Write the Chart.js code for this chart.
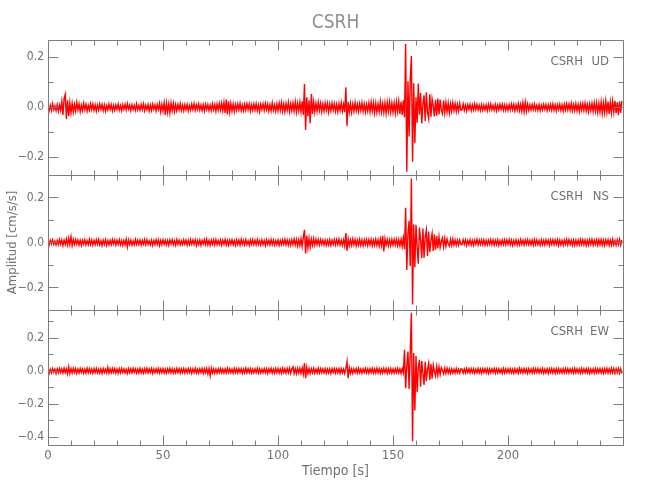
<!DOCTYPE html>
<html>
<head>
<meta charset="utf-8">
<script src="https://cdn.jsdelivr.net/npm/chart.js@4/dist/chart.umd.min.js"></script>
<style>
  html, body { margin: 0; padding: 0; background: #ffffff; }
  #wrap { width: 650px; height: 500px; }
</style>
</head>
<body>
<div id="wrap"><canvas id="c" width="650" height="500"></canvas></div>
<script>
// ---- DATA (amplitudes, in units of 0.001 cm/s/s, one sample every 0.5 s) ----
const sampleStep = 0.5; // seconds
const station = 'CSRH';
const components = ['UD', 'NS', 'EW'];

const udMilli = [
  10,-14,8,-12,15,-9,6,-13,11,-16,9,-12,24,-30,36,52,-47,28,-34,18,
  -22,16,-19,12,-15,20,-11,14,-17,9,-13,16,-10,12,-15,8,-11,14,-9,13,
  -12,10,-15,9,-11,14,-8,12,-13,10,-16,7,-10,13,-9,11,-14,8,-12,10,
  -9,13,-11,7,-14,10,-8,12,-10,15,-7,9,-13,11,-9,8,-12,14,-10,7,
  -11,12,-9,14,-13,8,-10,11,-15,9,-12,13,-8,10,-14,11,-9,16,-18,12,
  -15,19,-30,17,-20,14,-22,18,-13,16,-17,11,-14,12,-10,15,-12,9,-13,11,
  -10,12,-14,8,-11,13,-9,15,-12,10,-8,14,-11,9,-13,10,-15,12,-9,11,
  -13,9,-12,14,-10,11,-16,13,-12,15,-11,17,-14,20,-22,31,-28,24,-19,16,
  -15,13,-17,11,-12,14,-10,16,-13,9,-14,12,-11,15,-9,13,-16,10,-12,14,
  -11,15,-13,10,-17,12,-9,14,-12,16,-10,13,-15,11,-14,18,-12,10,-16,13,
  -14,17,-12,19,-16,13,-18,15,-11,20,-17,14,-13,18,-15,22,-19,16,-14,21,
  -18,24,-30,93,-91,40,-35,28,-64,53,-26,22,-19,17,-15,20,-13,16,-18,14,
  -15,18,-12,16,-19,13,-14,17,-11,15,-16,12,-18,14,-13,19,-15,12,-20,80,
  -74,22,-18,15,-20,13,-16,19,-14,12,-17,15,-13,18,-16,14,-19,12,-15,17,
  -18,21,-15,19,-22,16,-20,14,-17,23,-19,15,-21,18,-24,20,-16,22,-19,17,
  -20,18,-23,21,-17,24,-26,22,-30,28,-40,253,-258,104,-117,112,205,-218,96,-144,
  40,-62,95,-30,57,-64,12,48,-55,60,-20,-45,52,-38,34,5,-36,30,-33,35,
  -28,31,-10,-25,27,-22,20,-18,17,-21,14,-16,19,-13,15,-17,12,-14,16,-11,
  -10,13,-12,9,-14,11,-8,12,-13,10,-11,14,-9,12,-10,8,-13,11,-12,9,
  -11,10,-13,12,-9,14,-10,8,-12,11,-14,9,-10,13,-8,12,-11,10,-13,9,
  -12,11,-10,13,-9,12,-14,10,-11,15,-13,12,-16,19,-18,21,-15,13,-12,10,
  -11,12,-9,13,-10,8,-12,11,-13,9,-10,12,-8,11,-13,10,-9,12,-11,14,
  -12,10,-14,11,-9,13,-12,10,-15,12,-11,14,-10,13,-12,16,-14,11,-13,15,
  -14,12,-16,13,-11,15,-13,17,-15,12,-18,14,-13,16,-17,19,-15,18,-20,16,
  -19,22,-24,18,-21,25,-20,23,-26,21,-22,24,-19,26,-23,20,-31,24,-22,26
];

const nsMilli = [
  8,-11,10,-7,12,-9,6,-12,9,-10,13,-8,11,-14,10,-9,15,-12,18,-11,
  25,-14,12,-10,13,-8,11,-12,9,-13,10,-7,12,-11,8,-10,14,-9,11,-12,
  9,-10,12,-8,13,-11,7,-14,10,-9,12,-13,8,-11,9,-10,13,-7,11,-12,
  10,-9,12,-11,8,-13,9,-10,14,-20,11,-9,10,-12,7,-11,13,-8,10,-9,
  11,-12,9,-8,13,-10,12,-9,7,-11,10,-13,8,-10,12,-9,11,-14,9,-10,
  12,-8,10,-11,9,-13,11,-7,12,-10,8,-12,13,-9,10,-11,7,-10,12,-8,
  10,-12,9,-10,13,-8,11,-9,12,-14,8,-10,11,-13,9,-7,12,-10,14,-11,
  9,-13,10,-8,12,-11,13,-10,8,-9,11,-12,10,-8,13,-11,9,-12,10,-9,
  12,-10,8,-13,11,-9,10,-12,14,-8,9,-11,12,-10,7,-13,11,-9,12,-10,
  10,-11,13,-9,8,-12,11,-10,9,-14,12,-8,10,-11,13,-9,11,-12,8,-10,
  11,-13,9,-10,12,-8,14,-11,10,-12,9,-13,12,-10,15,-11,13,-16,12,-14,
  16,-18,22,56,-49,30,-24,18,-21,15,-13,16,-12,14,-10,13,-11,12,-9,11,
  -12,10,-13,9,-11,12,-14,10,-9,13,-11,12,-10,14,-12,9,-13,11,-15,41,
  -37,16,-14,12,-13,15,-11,13,-16,10,-12,14,-13,11,-15,12,-10,13,-14,12,
  -11,13,-15,10,-12,14,-13,11,-16,15,-14,29,-40,16,-13,12,-15,11,-14,13,
  -12,14,-11,13,-15,12,-16,14,-18,20,-30,154,-122,40,96,-105,284,-276,80,-110,
  78,-20,-95,66,10,-70,62,-68,25,55,-60,48,-44,8,40,-38,36,-32,28,-26,
  25,-22,4,20,-20,18,-17,15,-6,-16,14,-13,15,-12,11,-13,10,-12,11,-9,
  -10,12,-9,11,-13,8,-10,12,-11,9,-12,10,-8,13,-11,10,-9,12,-10,11,
  -12,9,-11,10,-8,13,-10,11,-12,9,-10,12,-13,8,-11,10,-9,12,-10,11,
  -9,12,-11,10,-13,9,-10,11,-12,8,-11,13,-9,10,-12,11,-8,12,-10,9,
  -11,10,-12,13,-9,11,-10,8,-13,12,-10,9,-11,12,-8,10,-13,11,-9,12,
  -10,11,-9,12,-13,10,-11,9,-12,10,-8,13,-11,12,-10,9,-12,11,-13,10,
  -12,10,-11,13,-9,12,-10,11,-14,9,-11,12,-10,13,-12,10,-9,11,-13,12,
  -11,13,-12,10,-14,11,-9,12,-13,10,-12,14,-11,9,-13,12,-10,14,-12,11
];

const ewMilli = [
  12,-15,10,-13,14,-9,11,-16,13,-12,15,-10,12,-14,16,-11,13,-18,25,-17,
  14,-12,16,-10,13,-15,11,-13,15,-9,12,-14,10,-13,16,-11,14,-12,10,-15,
  13,-11,15,-12,10,-14,12,-16,14,-10,11,-13,22,-15,13,-12,15,-10,14,-13,
  11,-14,13,-12,15,-10,12,-13,10,-15,14,-11,13,-12,16,-9,12,-14,11,-13,
  15,-12,10,-14,13,-11,16,-13,12,-10,14,-15,11,-12,13,-10,15,-13,12,-11,
  14,-13,11,-15,12,-10,16,-12,13,-14,10,-12,15,-11,13,-14,12,-10,14,-13,
  11,-12,14,-10,13,-15,12,-11,15,-13,10,-14,12,-11,14,-16,13,-12,15,-18,
  14,-30,16,-13,12,-15,11,-14,13,-10,15,-12,11,-14,12,-13,16,-11,13,-12,
  10,-14,15,-11,13,-12,14,-10,12,-15,11,-13,16,-12,14,-11,13,-14,10,-12,
  13,-11,15,-13,12,-14,10,-12,14,-11,13,-15,12,-10,16,-13,11,-14,15,-12,
  14,-13,12,-15,16,-11,13,-14,15,-12,17,-14,13,25,-16,14,-17,15,-13,16,
  -15,18,-20,47,-45,22,-16,14,-15,13,-12,15,-14,11,-13,16,-12,14,-11,13,
  -12,14,-15,11,-13,12,-16,13,-10,15,-14,12,-11,13,-15,14,-12,11,-16,12,
  57,-45,18,-14,13,-15,12,-11,14,-13,16,-12,11,-14,13,-10,15,-13,12,-14,
  13,-11,15,-14,12,-13,16,-12,14,-15,11,-13,15,-12,14,-16,13,-11,15,-14,
  12,-14,13,-11,15,-13,12,-16,14,-12,128,-106,30,118,-110,125,353,-427,108,-240,
  90,-130,20,67,-96,60,-15,-85,55,-62,10,47,-55,42,-48,35,-5,-30,28,-25,
  24,-22,20,3,-18,17,-15,16,-14,13,-15,12,-14,11,-13,14,-12,10,-13,12,
  12,-14,11,-13,15,-10,13,-12,14,-11,12,-15,10,-13,14,-12,11,-14,13,-10,
  14,-12,13,-15,11,-13,12,-10,15,-14,12,-11,13,-12,10,-14,15,-13,11,-12,
  13,-11,14,-12,10,-15,13,-12,11,-14,16,-10,12,-13,14,-11,12,-15,13,-12,
  11,-13,15,-12,13,-10,14,-13,12,-11,15,-14,10,-12,13,-15,12,-11,14,-13,
  12,-15,13,-11,14,-12,10,-14,13,-12,15,-11,14,-13,12,-10,13,-14,16,-12,
  13,-12,11,-14,15,-13,12,-11,14,-12,13,-15,11,-13,12,-14,15,-12,13,-11,
  14,-13,12,-15,13,-11,15,-14,12,-13,16,-12,14,-15,13,-12,15,-14,13,-16
];

// axis ranges and tick labels
const timeRange = [0, 250];
const xTickLabels = [0, 50, 100, 150, 200];
const udRange = [-0.27, 0.27];
const nsRange = [-0.30, 0.30];
const ewRange = [-0.45, 0.37];
const udTickLabels = [-0.2, 0.0, 0.2];
const nsTickLabels = [-0.2, 0.0, 0.2];
const ewTickLabels = [-0.4, -0.2, 0.0, 0.2];

// ---- derived (unit conversion + sampling grid) ----
const toCmss = a => a.map(v => v / 1000);
const times = udMilli.map((_, i) => i * sampleStep);

const FONT = "'Liberation Sans Narrow', 'DejaVu Sans Condensed', 'Roboto Condensed', 'Liberation Sans', sans-serif";
const TXT = '#707070';
const AXC = '#7c7c7c';

const fmt = v => {
  const s = Math.abs(v).toFixed(1);
  return v < -1e-9 ? '\u2212' + s : s;
};

function yScale(range, ticks, withTitle) {
  return {
    type: 'linear', position: 'left', stack: 'seis', stackWeight: 1,
    min: range[0], max: range[1],
    afterBuildTicks: s => { s.ticks = ticks.map(v => ({ value: v })); },
    afterFit: s => { s.width = 48; },
    grid: { display: false, drawTicks: false },
    border: { display: false },
    ticks: { color: TXT, font: { family: FONT, size: 12 }, padding: 4,
             autoSkip: false, callback: v => fmt(v) },
    title: { display: withTitle, text: 'Amplitud [cm/s/s]', color: TXT,
             font: { family: FONT, size: 13 }, padding: { top: 5, bottom: 0 } }
  };
}

// inward tick marks + frames, IDL style
const framePlugin = {
  id: 'frame',
  afterDatasetsDraw(chart) {
    const ctx = chart.ctx;
    const xs = chart.scales.x;
    const ids = ['yUD', 'yNS', 'yEW'];
    ctx.save();
    ctx.strokeStyle = AXC;
    ctx.lineWidth = 1;
    ids.forEach((id, k) => {
      const ys = chart.scales[id];
      const top = Math.round(ys.top) + 0.5, bot = Math.round(ys.bottom) + 0.5;
      const l = Math.round(xs.left) + 0.5, r = Math.round(xs.right) + 0.5;
      ctx.beginPath();
      ctx.rect(l, top, r - l, bot - top);
      // x ticks every 10 s, major every 50 s
      for (let t = timeRange[0]; t <= timeRange[1]; t += 10) {
        const px = Math.round(xs.getPixelForValue(t)) + 0.5;
        const len = (t % 50 === 0) ? 10 : 5;
        ctx.moveTo(px, top); ctx.lineTo(px, top + len);
        ctx.moveTo(px, bot); ctx.lineTo(px, bot - len);
      }
      // y ticks every 0.1, major every 0.2
      const lo = Math.ceil(ys.min * 10 - 1e-6), hi = Math.floor(ys.max * 10 + 1e-6);
      for (let n = lo; n <= hi; n++) {
        const py = Math.round(ys.getPixelForValue(n / 10)) + 0.5;
        const len = (n % 2 === 0) ? 10 : 5;
        ctx.moveTo(l, py); ctx.lineTo(l + len, py);
        ctx.moveTo(r, py); ctx.lineTo(r - len, py);
      }
      ctx.stroke();
      // panel label
      ctx.fillStyle = TXT;
      ctx.font = '13px ' + FONT;
      ctx.textBaseline = 'middle';
      ctx.textAlign = 'right';
      const ly = ys.top + 22;
      ctx.fillText(station, xs.right - 40, ly);
      ctx.fillText(components[k], xs.right - 14, ly);
    });
    ctx.restore();
  }
};

const mk = (vals, yid) => ({
  data: toCmss(vals), yAxisID: yid, borderColor: '#ff0000', borderWidth: 1.4,
  pointRadius: 0, tension: 0, fill: false
});

new Chart(document.getElementById('c'), {
  type: 'line',
  data: {
    labels: times,
    datasets: [mk(udMilli, 'yUD'), mk(nsMilli, 'yNS'), mk(ewMilli, 'yEW')]
  },
  options: {
    responsive: false, animation: false, events: [],
    layout: { padding: { left: 0, right: 27, top: 0, bottom: 0 } },
    plugins: {
      legend: { display: false }, tooltip: { enabled: false },
      title: { display: true, text: station, color: '#909090', fullSize: false,
               font: { family: FONT, size: 19, weight: 'normal' },
               padding: { top: 12, bottom: 5 } }
    },
    scales: {
      x: {
        type: 'linear', position: 'bottom', min: timeRange[0], max: timeRange[1],
        afterBuildTicks: s => { s.ticks = xTickLabels.map(v => ({ value: v })); },
        afterFit: s => { s.height = 55; },
        grid: { display: false, drawTicks: false },
        border: { display: false },
        ticks: { color: TXT, font: { family: FONT, size: 13 }, padding: 3,
                 autoSkip: false, maxRotation: 0, callback: v => String(v) },
        title: { display: true, text: 'Tiempo [s]', color: TXT,
                 font: { family: FONT, size: 14 }, padding: { top: 0, bottom: 20 } }
      },
      // stacked panels: the last declared axis is drawn on top
      yEW: yScale(ewRange, ewTickLabels, false),
      yNS: yScale(nsRange, nsTickLabels, true),
      yUD: yScale(udRange, udTickLabels, false)
    }
  },
  plugins: [framePlugin]
});
</script>
</body>
</html>
